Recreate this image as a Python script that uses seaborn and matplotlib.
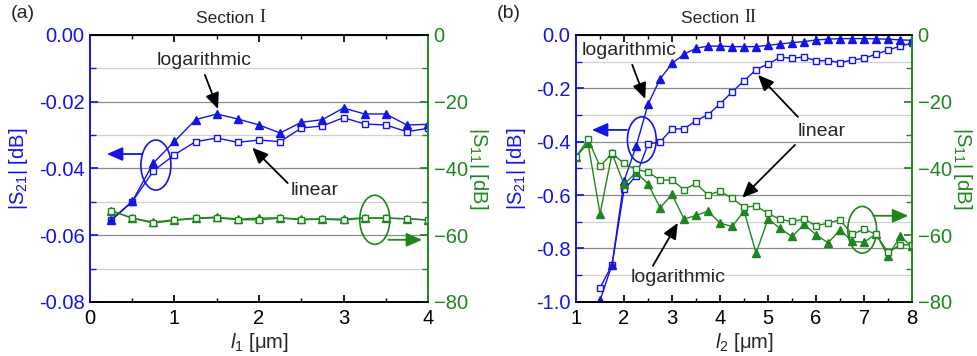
import numpy as np
import pandas as pd
import seaborn as sns
import matplotlib.pyplot as plt
from matplotlib.patches import Ellipse
from matplotlib.ticker import MultipleLocator

# Section I data
l1 = [0.25, 0.5, 0.75, 1.0, 1.25, 1.5, 1.75, 2.0, 2.25, 2.5, 2.75, 3.0, 3.25, 3.5, 3.75, 4.0]
s21_log_a = [-0.0554, -0.0499, -0.0384, -0.0319, -0.0254, -0.0237, -0.0252, -0.0270,
             -0.0294, -0.0262, -0.0254, -0.0219, -0.0237, -0.0237, -0.0270, -0.0268]
s21_lin_a = [-0.0556, -0.0500, -0.0408, -0.0359, -0.0320, -0.0309, -0.0322, -0.0315,
             -0.0320, -0.0279, -0.0273, -0.0248, -0.0267, -0.0270, -0.0290, -0.0280]
s11_log_a = [-52.7, -54.9, -56.1, -55.4, -54.9, -54.6, -55.2, -54.9,
             -54.8, -55.2, -55.1, -55.2, -54.8, -54.9, -55.1, -55.4]
s11_lin_a = [-52.7, -54.9, -56.4, -55.6, -55.0, -54.8, -55.4, -55.4,
             -54.9, -55.4, -55.2, -55.5, -54.9, -54.9, -55.1, -55.5]

# Section II data
l2_s21 = [1.5, 1.75, 2.0, 2.25, 2.5, 2.75, 3.0, 3.25, 3.5, 3.75, 4.0, 4.25, 4.5, 4.75,
          5.0, 5.25, 5.5, 5.75, 6.0, 6.25, 6.5, 6.75, 7.0, 7.25, 7.5, 7.75, 8.0]
s21_log_b = [-0.994, -0.86, -0.547, -0.418, -0.26, -0.165, -0.107, -0.072, -0.05, -0.042,
             -0.042, -0.044, -0.044, -0.044, -0.039, -0.034, -0.029, -0.025, -0.019,
             -0.016, -0.014, -0.014, -0.014, -0.015, -0.016, -0.019, -0.02]
s21_lin_b = [-0.947, -0.862, -0.579, -0.528, -0.409, -0.401, -0.352, -0.352, -0.321,
             -0.299, -0.258, -0.214, -0.172, -0.13, -0.109, -0.084, -0.087, -0.083,
             -0.097, -0.096, -0.104, -0.094, -0.088, -0.072, -0.057, -0.042, -0.031]
l2_s11 = [1.0, 1.25, 1.5, 1.75, 2.0, 2.25, 2.5, 2.75, 3.0, 3.25, 3.5, 3.75, 4.0, 4.25, 4.5,
          4.75, 5.0, 5.25, 5.5, 5.75, 6.0, 6.25, 6.5, 6.75, 7.0, 7.25, 7.5, 7.75, 8.0]
s11_lin_b = [-36.5, -31.3, -39.4, -35.5, -38.5, -40.3, -41.1, -43.5, -43.5, -46.4, -44.5,
             -48.0, -46.8, -49.0, -51.6, -51.3, -53.5, -55.3, -55.9, -55.2, -57.2, -56.4,
             -55.4, -59.8, -58.2, -59.8, -65.2, -62.9, -62.9]
s11_log_b = [-36.5, -32.5, -53.6, -35.5, -44.8, -41.2, -44.6, -51.8, -47.8, -55.2, -54.1,
             -52.8, -56.4, -57.4, -52.8, -65.4, -55.1, -58.0, -60.4, -56.8, -59.9, -62.3,
             -58.4, -61.9, -62.1, -59.6, -66.4, -60.4, -63.4]

BLUE = "#1414e6"
GREEN = "#1f861f"

sns.set_theme(style="white")
plt.rcParams['font.family'] = ['Liberation Sans', 'DejaVu Sans']
plt.rcParams['mathtext.fontset'] = 'custom'
plt.rcParams['mathtext.rm'] = 'Liberation Sans'
plt.rcParams['mathtext.it'] = 'Liberation Sans:italic'

fig = plt.figure(figsize=(9.77, 3.56), dpi=100)
axA = fig.add_axes([0.0921, 0.152, 0.346, 0.750])
axB = fig.add_axes([0.5896, 0.152, 0.344, 0.750])


def line(ax, x, y, color, marker, filled):
    df = pd.DataFrame({"x": x, "y": y})
    sns.lineplot(data=df, x="x", y="y", ax=ax, color=color, lw=1.0, marker=marker,
                 markersize=5.5 if marker == "^" else 5,
                 markerfacecolor=color if filled else "white",
                 markeredgecolor=color, markeredgewidth=1.0)


def style(ax, ax2, xlim, xmaj, xmin, ylim, ymaj, ymin, fmt, xlabel, numeral, letter):
    ax.set_xlim(*xlim)
    ax.set_ylim(*ylim)
    ax2.set_ylim(-80, 0)
    ax.xaxis.set_major_locator(MultipleLocator(xmaj))
    ax.xaxis.set_minor_locator(MultipleLocator(xmin))
    ax.yaxis.set_major_locator(MultipleLocator(ymaj))
    ax.yaxis.set_minor_locator(MultipleLocator(ymin))
    ax2.yaxis.set_major_locator(MultipleLocator(20))
    ax2.yaxis.set_minor_locator(MultipleLocator(10))
    ax.yaxis.set_major_formatter(plt.FormatStrFormatter(fmt))
    ax.grid(True, which="major", axis="y", color="#8a8a8a", lw=0.9)
    ax.grid(True, which="minor", axis="y", color="#d0d0d0", lw=0.9)
    ax.set_axisbelow(True)
    ax.tick_params(axis="x", which="both", direction="in", top=True, bottom=True,
                   labelsize=14.5, colors="black", pad=5)
    ax.tick_params(axis="x", which="major", length=5)
    ax.tick_params(axis="x", which="minor", length=3)
    ax.tick_params(axis="y", which="both", direction="in", left=True, labelsize=14.5,
                   colors=BLUE, pad=4)
    ax2.tick_params(axis="y", which="both", direction="in", right=True, labelsize=14.5,
                    colors=GREEN, pad=4)
    for a in (ax, ax2):
        a.spines["top"].set_color("black")
        a.spines["bottom"].set_color("black")
        a.spines["left"].set_color(BLUE)
        a.spines["right"].set_color(GREEN)
        for s in a.spines.values():
            s.set_linewidth(1.2)
    ax.set_xlabel(xlabel, fontsize=14.5, labelpad=2)
    ax.set_ylabel(r"|S$_{21}$| [dB]", fontsize=14.5, color=BLUE, labelpad=6)
    ax2.set_ylabel(r"|S$_{11}$| [dB]", fontsize=14.5, color=GREEN, rotation=270, labelpad=16)
    # title: sans "Section" plus a serif roman numeral
    ax.text(0.5, 1.035, "Section ", transform=ax.transAxes, fontsize=12.5,
            ha="right", va="bottom")
    ax.text(0.5, 1.035, numeral, transform=ax.transAxes, fontsize=13,
            ha="left", va="bottom", family=["Liberation Serif"])
    ax.text(-0.235, 1.05, letter, transform=ax.transAxes, fontsize=14, va="bottom")


def arrow(ax, xy, xytext, color="black"):
    ax.annotate("", xy=xy, xytext=xytext,
                arrowprops=dict(arrowstyle="-|>,head_length=0.8,head_width=0.35",
                                color=color, lw=1.3, shrinkA=0, shrinkB=0))


# ---- panel (a)
axA2 = axA.twinx()
line(axA, l1, s21_lin_a, BLUE, "s", False)
line(axA, l1, s21_log_a, BLUE, "^", True)
line(axA2, l1, s11_log_a, GREEN, "^", True)
line(axA2, l1, s11_lin_a, GREEN, "s", False)
style(axA, axA2, (0, 4), 1, 0.5, (-0.08, 0.0), 0.02, 0.01, "%.2f",
      r"$\mathit{l}_1$ [μm]", "I", "(a)")

axA.text(1.35, -0.0078, "logarithmic", fontsize=14, ha="center", va="center")
arrow(axA, (1.515, -0.0222), (1.36, -0.012))
axA.text(2.66, -0.0467, "linear", fontsize=14, ha="center", va="center")
arrow(axA, (1.92, -0.0338), (2.34, -0.0444))
axA.add_patch(Ellipse((0.78, -0.039), 0.355, 0.015, fill=False, ec=BLUE, lw=1.2))
arrow(axA, (0.2, -0.0357), (0.615, -0.0357), color=BLUE)
axA2.add_patch(Ellipse((3.37, -55.4), 0.355, 14.7, fill=False, ec=GREEN, lw=1.2))
arrow(axA2, (3.93, -61.4), (3.53, -61.4), color=GREEN)

# ---- panel (b)
axB2 = axB.twinx()
line(axB, l2_s21, s21_lin_b, BLUE, "s", False)
line(axB, l2_s21, s21_log_b, BLUE, "^", True)
line(axB2, l2_s11, s11_log_b, GREEN, "^", True)
line(axB2, l2_s11, s11_lin_b, GREEN, "s", False)
style(axB, axB2, (1, 8), 1, 0.5, (-1.0, 0.0), 0.2, 0.1, "%.1f",
      r"$\mathit{l}_2$ [μm]", "II", "(b)")

axB.text(2.1, -0.06, "logarithmic", fontsize=14, ha="center", va="center")
arrow(axB, (2.44, -0.24), (2.17, -0.112))
axB.text(6.12, -0.363, "linear", fontsize=14, ha="center", va="center")
arrow(axB, (4.79, -0.15), (5.62, -0.307))
arrow(axB, (4.46, -0.61), (5.56, -0.412))
axB.text(3.13, -0.91, "logarithmic", fontsize=14, ha="center", va="center")
arrow(axB, (3.12, -0.704), (2.6, -0.865))
axB.add_patch(Ellipse((2.37, -0.393), 0.6, 0.172, fill=False, ec=BLUE, lw=1.2))
arrow(axB, (1.33, -0.356), (2.06, -0.356), color=BLUE)
axB2.add_patch(Ellipse((6.96, -58.4), 0.6, 14, fill=False, ec=GREEN, lw=1.2))
arrow(axB2, (7.92, -54.2), (7.19, -54.2), color=GREEN)

fig.savefig("out.png", dpi=100)
